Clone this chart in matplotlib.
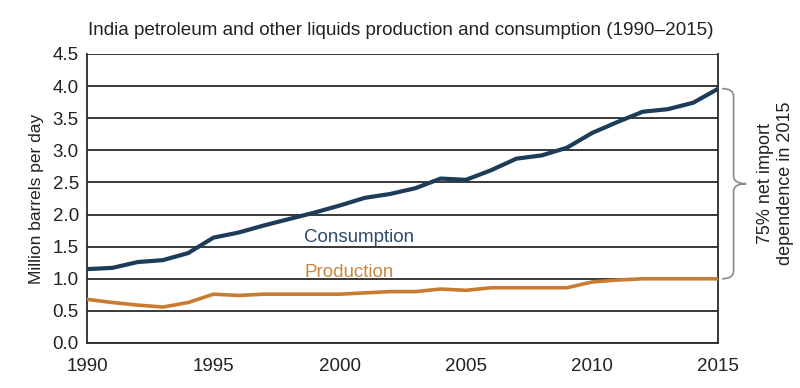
import matplotlib.pyplot as plt
from matplotlib.path import Path
from matplotlib.patches import PathPatch

plt.rcParams['font.family'] = ['Liberation Sans', 'DejaVu Sans']

# Data (million barrels per day)
years = list(range(1990, 2016))
consumption = [1.15, 1.17, 1.26, 1.29, 1.40, 1.64, 1.72, 1.83, 1.93, 2.03,
               2.14, 2.26, 2.32, 2.41, 2.56, 2.54, 2.69, 2.87, 2.92, 3.04,
               3.27, 3.44, 3.60, 3.64, 3.74, 3.96]
production = [0.68, 0.63, 0.59, 0.56, 0.63, 0.76, 0.74, 0.76, 0.76, 0.76,
              0.76, 0.78, 0.80, 0.80, 0.84, 0.82, 0.86, 0.86, 0.86, 0.86,
              0.95, 0.98, 1.00, 1.00, 1.00, 1.00]
yticks = [0.0, 0.5, 1.0, 1.5, 2.0, 2.5, 3.0, 3.5, 4.0, 4.5]
xticks = [1990, 1995, 2000, 2005, 2010, 2015]

navy = '#1c3c5a'
orange = '#c97c30'

fig = plt.figure(figsize=(8, 3.88), dpi=100)
ax = fig.add_axes([0.109, 0.116, 0.789, 0.745])

for v in yticks:
    ax.axhline(v, color='#2a2a2a', lw=1.3, zorder=1)

ax.plot(years, production, color=orange, lw=2.6, zorder=3)
ax.plot(years, consumption, color=navy, lw=3.0, zorder=3)

ax.set_xlim(1990, 2015)
ax.set_ylim(0, 4.5)
ax.set_yticks(yticks)
ax.set_yticklabels([f'{v:.1f}' for v in yticks])
ax.set_xticks(xticks)
ax.tick_params(length=0, labelsize=13.5, colors='#222222')
ax.tick_params(axis='x', pad=11)
ax.tick_params(axis='y', pad=6)
for s in ['left', 'right', 'bottom']:
    ax.spines[s].set_color('#2a2a2a')
    ax.spines[s].set_linewidth(1.3)
ax.spines['top'].set_visible(False)

ax.set_ylabel('Million barrels per day', fontsize=12.5, color='#222222', labelpad=6)

ax.text(1998.6, 1.64, 'Consumption', color='#2d4b6b', fontsize=13.5, va='center')
ax.text(1998.6, 1.1, 'Production', color='#c8873e', fontsize=13.5, va='center')

fig.text(0.11, 0.922, 'India petroleum and other liquids production and consumption (1990\u20132015)',
         fontsize=13.6, color='#222222', va='center')

# brace showing the import gap in 2015
top = consumption[-1]
bot = production[-1]
mid = (top + bot) / 2
x0, x1, x2 = 2015.15, 2015.6, 2016.1
r = 0.12
verts = [(x0, top), (x1, top), (x1, top - r), (x1, top - r),
         (x1, mid + r), (x1, mid), (x2, mid),
         (x1, mid), (x1, mid - r), (x1, mid - r),
         (x1, bot + r), (x1, bot), (x0, bot)]
codes = [Path.MOVETO, Path.CURVE3, Path.CURVE3, Path.LINETO,
         Path.LINETO, Path.CURVE3, Path.CURVE3,
         Path.CURVE3, Path.CURVE3, Path.LINETO,
         Path.LINETO, Path.CURVE3, Path.CURVE3]
ax.add_patch(PathPatch(Path(verts, codes), fill=False, edgecolor='#8a8a8a',
                       lw=1.2, clip_on=False))

ax.text(2017.25, mid, '75% net import\ndependence in 2015', rotation=90,
        ha='center', va='center', fontsize=13, color='#222222',
        linespacing=1.25)

fig.savefig('out.png', dpi=100)
